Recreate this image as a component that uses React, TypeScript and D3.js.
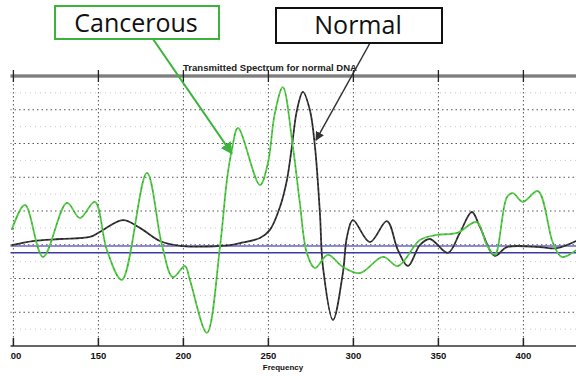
import React from 'react';
import * as d3 from 'd3';

// frequency samples
const cancerFreq = [99, 106.8, 117.4, 131.5, 139.1, 147.9, 155, 163.8, 178.5, 187.4, 193.8, 200.9, 203.8, 213.8, 221.5, 225.6, 228.5, 232.1, 245, 249.7, 253.8, 258.5, 264.4, 268.5, 272.6, 277.4, 285, 293.8, 303.8, 317.4, 326.2, 339.1, 349.1, 360.9, 372.6, 378.5, 383.2, 390.3, 393.8, 399.7, 408.5, 417.4, 422.6, 431];
const cancerVal = [3.44, 4.18, 2.64, 4.24, 3.79, 4.27, 2.84, 1.96, 5.13, 2.99, 2.04, 2.37, 1.96, 0.39, 2.93, 4.92, 5.81, 6.46, 4.77, 5.42, 6.9, 7.67, 5.9, 4.24, 2.76, 2.31, 2.7, 2.34, 2.16, 2.64, 2.37, 3.14, 3.29, 3.35, 3.67, 2.99, 2.7, 4.41, 4.53, 4.27, 4.59, 3.05, 2.64, 2.84];

const normalFreq = [99, 111.5, 127.4, 145, 150.9, 164.4, 174.4, 186.2, 199.7, 227.4, 233.2, 245, 250.9, 256.8, 260.9, 263.8, 266.8, 270.3, 274.4, 277.4, 280.3, 282.1, 288, 293.8, 296.2, 299.7, 309.7, 319.7, 326.2, 332.1, 339.1, 345, 355.6, 362.6, 369.7, 374.4, 383.2, 390.3, 409.7, 419.7, 431];
const normalVal = [2.99, 3.11, 3.17, 3.23, 3.38, 3.73, 3.5, 3.11, 2.96, 2.99, 3.05, 3.2, 3.44, 4.12, 4.92, 5.9, 6.99, 7.53, 6.99, 5.9, 3.94, 2.34, 0.77, 2.16, 3.23, 3.73, 3.08, 3.7, 2.84, 2.37, 2.99, 3.17, 2.76, 3.35, 3.97, 3.53, 2.67, 2.93, 2.93, 2.9, 3.11];

const xTicks = [100, 150, 200, 250, 300, 350, 400];
const yGrid = [1, 2, 3, 4, 5, 6, 7];
const yMinor = [0.5, 1.5, 2.5, 3.5, 4.5, 5.5, 6.5, 7.5];
const refLines = [2.96, 2.76];

const W = 576;
const H = 376;

export default function App() {
  const x = d3.scaleLinear().domain([98, 432]).range([10, 577.8]);
  const y = d3.scaleLinear().domain([0, 8]).range([346, 76]);

  const line = d3
    .line<[number, number]>()
    .x((d) => x(d[0]))
    .y((d) => y(d[1]))
    .curve(d3.curveCatmullRom.alpha(0.5));

  const cancer = line(cancerFreq.map((f, i) => [f, cancerVal[i]]) as [number, number][]) || '';
  const normal = line(normalFreq.map((f, i) => [f, normalVal[i]]) as [number, number][]) || '';

  // arrow tips sit on the curves
  const greenTip = [x(228.5), y(5.7)];
  const blackTip = [x(278), y(6.1)];

  return (
    <svg width={W} height={H} style={{ position: 'absolute', left: 0, top: 0, background: '#fff' }}>
      <defs>
        <clipPath id="plot">
          <rect x={10.5} y={60} width={W - 10.5} height={H - 60} />
        </clipPath>
        <marker id="arrG" viewBox="0 0 10 10" refX="9" refY="5" markerWidth="6" markerHeight="6" orient="auto">
          <path d="M0,0 L10,5 L0,10 z" fill="#3cb43c" />
        </marker>
        <marker id="arrK" viewBox="0 0 10 10" refX="9" refY="5" markerWidth="6" markerHeight="6" orient="auto">
          <path d="M0,0 L10,5 L0,10 z" fill="#333" />
        </marker>
      </defs>

      <g clipPath="url(#plot)">
        {/* minor grid */}
        {yMinor.map((v) => (
          <line key={'m' + v} x1={10} x2={W} y1={y(v)} y2={y(v)} stroke="#c8c8c8" strokeWidth={1} strokeDasharray="1,4" />
        ))}
        {/* major grid */}
        {yGrid.map((v) => (
          <line key={'g' + v} x1={10} x2={W} y1={y(v)} y2={y(v)} stroke="#555" strokeWidth={1} strokeDasharray="1.5,3" />
        ))}
        {xTicks.map((t) => (
          <line key={'v' + t} x1={x(t)} x2={x(t)} y1={y(8)} y2={y(0)} stroke="#555" strokeWidth={1} strokeDasharray="1.5,2.5" />
        ))}

        {/* blue reference lines */}
        <line x1={10} x2={W} y1={y(refLines[0])} y2={y(refLines[0])} stroke="#6666cc" strokeWidth={1.5} />
        <line x1={10} x2={W} y1={y(refLines[1])} y2={y(refLines[1])} stroke="#3a3aa8" strokeWidth={1.5} />

        {/* curves */}
        <path d={normal} fill="none" stroke="#3c3c3c" strokeWidth={1.8} />
        <path d={normal} fill="none" stroke="#000" strokeWidth={1} strokeDasharray="2,3" opacity={0.6} />
        <path d={cancer} fill="none" stroke="#55cc48" strokeWidth={1.8} />
        <path d={cancer} fill="none" stroke="#1f5a1a" strokeWidth={1} strokeDasharray="2,4" opacity={0.45} />

        {/* top axis (double line) */}
        <line x1={10} x2={W} y1={y(8)} y2={y(8)} stroke="#a8a8a8" strokeWidth={4} />
        <line x1={10} x2={W} y1={y(8)} y2={y(8)} stroke="#555" strokeWidth={1} />
        {xTicks.map((t) => (
          <line key={'tt' + t} x1={x(t)} x2={x(t)} y1={y(8) - 6} y2={y(8) + 6} stroke="#222" strokeWidth={1.3} />
        ))}

        {/* bottom axis */}
        <line x1={10} x2={W} y1={y(0)} y2={y(0)} stroke="#333" strokeWidth={1.5} />
        {xTicks.map((t) => (
          <line key={'bt' + t} x1={x(t)} x2={x(t)} y1={y(0) - 8} y2={y(0)} stroke="#222" strokeWidth={1.5} />
        ))}
        {xTicks.map((t) => (
          <text
            key={'lb' + t}
            x={x(t)}
            y={y(0) + 13}
            textAnchor="middle"
            fontFamily="Liberation Sans, Arial, sans-serif"
            fontWeight="bold"
            fontSize={9.5}
            fill="#111"
          >
            {t}
          </text>
        ))}
      </g>

      <text x={283} y={370} textAnchor="middle" fontFamily="Liberation Sans, Arial, sans-serif" fontWeight="bold" fontSize={8} fill="#111">
        Frequency
      </text>
      <text
        x={270}
        y={71}
        textAnchor="middle"
        fontFamily="Liberation Sans, Arial, sans-serif"
        fontWeight="bold"
        fontSize={8.5}
        textLength={174}
        lengthAdjust="spacingAndGlyphs"
        fill="#222"
      >
        Transmitted Spectrum for normal DNA
      </text>

      {/* annotations */}
      <line x1={153} y1={39} x2={greenTip[0]} y2={greenTip[1]} stroke="#3cb43c" strokeWidth={2} markerEnd="url(#arrG)" />
      <line x1={370} y1={43} x2={blackTip[0]} y2={blackTip[1]} stroke="#333" strokeWidth={1.5} markerEnd="url(#arrK)" />

      <rect x={55} y={6} width={164} height={33} fill="#fff" stroke="#3cb43c" strokeWidth={2} />
      <text x={136} y={32} textAnchor="middle" fontFamily="Open Sans, Noto Sans, sans-serif" fontSize={25} fill="#111">
        Cancerous
      </text>
      <rect x={276} y={8} width={166} height={35} fill="#fff" stroke="#111" strokeWidth={2} />
      <text x={358} y={34} textAnchor="middle" fontFamily="Open Sans, Noto Sans, sans-serif" fontSize={25} fill="#111">
        Normal
      </text>
    </svg>
  );
}
